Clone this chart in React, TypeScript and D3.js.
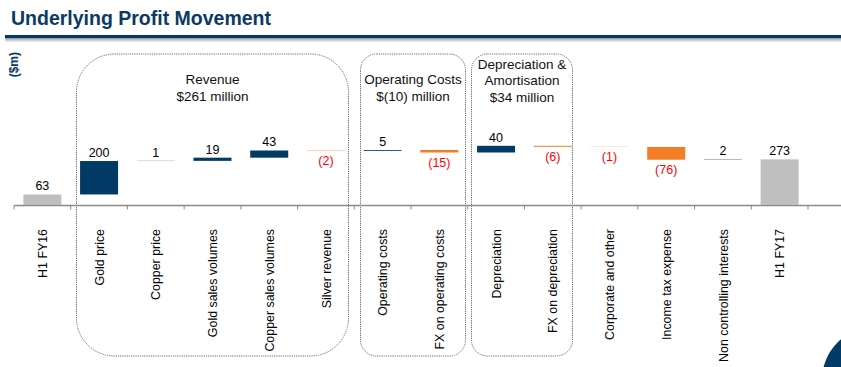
import React from "react";
import * as d3 from "d3";

const categories = [
  "H1 FY16",
  "Gold price",
  "Copper price",
  "Gold sales volumes",
  "Copper sales volumes",
  "Silver revenue",
  "Operating costs",
  "FX on operating costs",
  "Depreciation",
  "FX on depreciation",
  "Corporate and other",
  "Income tax expense",
  "Non controlling interests",
  "H1 FY17",
];
const values = [63, 200, 1, 19, 43, -2, 5, -15, 40, -6, -1, -76, 2, 273];
const isTotal = [true, false, false, false, false, false, false, false, false, false, false, false, false, true];
const valueLabels = ["63", "200", "1", "19", "43", "(2)", "5", "(15)", "40", "(6)", "(1)", "(76)", "2", "273"];

const groups = [
  { lines: ["Revenue", "$261 million"], from: 1, to: 5, radius: 38, firstBaseline: 84 },
  { lines: ["Operating Costs", "$(10) million"], from: 6, to: 7, radius: 16, firstBaseline: 84 },
  { lines: ["Depreciation &", "Amortisation", "$34 million"], from: 8, to: 9, radius: 16, firstBaseline: 68.5 },
];

const W = 841;
const H = 367;
const NAVY = "#023a66";
const ORANGE = "#f47d26";
const GRAY = "#bfbfbf";
const FONT = "'Liberation Sans', Arial, Helvetica, sans-serif";

export default function App() {
  const x = d3
    .scaleBand<string>()
    .domain(categories)
    .range([14, 808])
    .paddingInner(0.33)
    .paddingOuter(0.165);
  const y = d3.scaleLinear().domain([0, 400]).range([205, 205 - 400 * 0.1672]);
  const step = x.step();

  let running = 0;
  const bars = values.map((v, i) => {
    let lo: number, hi: number;
    if (isTotal[i]) {
      lo = 0;
      hi = v;
      running = v;
    } else {
      const start = running;
      running = running + v;
      lo = Math.min(start, running);
      hi = Math.max(start, running);
    }
    const color = isTotal[i] ? GRAY : v >= 0 ? NAVY : ORANGE;
    return { i, v, lo, hi, color };
  });

  const boxTop = 54;
  const boxBottom = 356;
  const boxEdges: [number, number][] = [
    [76.5, 348.5],
    [360.5, 465.5],
    [471.5, 572.5],
  ];

  const ticks = d3.range(categories.length + 1).map((k) => 14 + k * step);

  return (
    <div style={{ position: "absolute", left: 0, top: 0, width: W, height: H }}>
      <svg width={W} height={H} style={{ display: "block" }} fontFamily={FONT}>
        <defs>
          <linearGradient id="shadow" x1="0" y1="0" x2="0" y2="1">
            <stop offset="0" stopColor="#a8a8a8" />
            <stop offset="1" stopColor="#ffffff" />
          </linearGradient>
        </defs>
        <rect x={0} y={0} width={W} height={H} fill="#fff" />
        <text x={11} y={25} fontSize={19.5} fontWeight="bold" fill="#0b3a64">
          Underlying Profit Movement
        </text>
        <rect x={5} y={35} width={W - 5} height={3.5} fill={NAVY} />
        <rect x={5} y={38.5} width={W - 5} height={4} fill="url(#shadow)" />

        <text
          transform={`translate(18.3,52) rotate(-90)`}
          textAnchor="end"
          fontSize={12}
          fontWeight="bold"
          fill="#0b3a64"
        >
          ($m)
        </text>

        {groups.map((g, gi) => {
          const [l, r] = boxEdges[gi];
          const cx = (l + r) / 2;
          return (
            <g key={gi}>
              <rect
                x={l}
                y={boxTop}
                width={r - l}
                height={boxBottom - boxTop}
                rx={g.radius}
                ry={g.radius}
                fill="none"
                stroke="#6b6b6b"
                strokeWidth={1}
                strokeDasharray="1.2,1"
              />
              {g.lines.map((ln, li) => (
                <text
                  key={li}
                  x={cx}
                  y={g.firstBaseline + li * 16.7}
                  textAnchor="middle"
                  fontSize={13.5}
                  fill="#111"
                >
                  {ln}
                </text>
              ))}
            </g>
          );
        })}

        <line x1={14} x2={W} y1={205.5} y2={205.5} stroke="#8a8a8a" strokeWidth={1.5} />
        {ticks.map((t, k) => (
          <line key={k} x1={t} x2={t} y1={205.5} y2={209.5} stroke="#8a8a8a" strokeWidth={1} />
        ))}

        {bars.map((b) => {
          const bx = x(categories[b.i]) as number;
          const top = y(b.hi);
          const bottom = y(b.lo);
          const cx = bx + x.bandwidth() / 2;
          const positive = b.v >= 0;
          return (
            <g key={b.i}>
              <rect x={bx} y={top} width={x.bandwidth()} height={Math.max(bottom - top, 0)} fill={b.color} />
              <text
                x={cx}
                y={positive ? top - 4 : bottom + 14.5}
                textAnchor="middle"
                fontSize={12.5}
                fill={positive ? "#000" : "#ff0000"}
              >
                {valueLabels[b.i]}
              </text>
            </g>
          );
        })}

        {categories.map((c) => {
          const cx = (x(c) as number) + x.bandwidth() / 2;
          return (
            <text
              key={c}
              transform={`translate(${cx + 4.6},229) rotate(-90)`}
              textAnchor="end"
              fontSize={12.4}
              fill="#000"
            >
              {c}
            </text>
          );
        })}

        <circle cx={875} cy={380} r={53} fill={NAVY} />
      </svg>
    </div>
  );
}
